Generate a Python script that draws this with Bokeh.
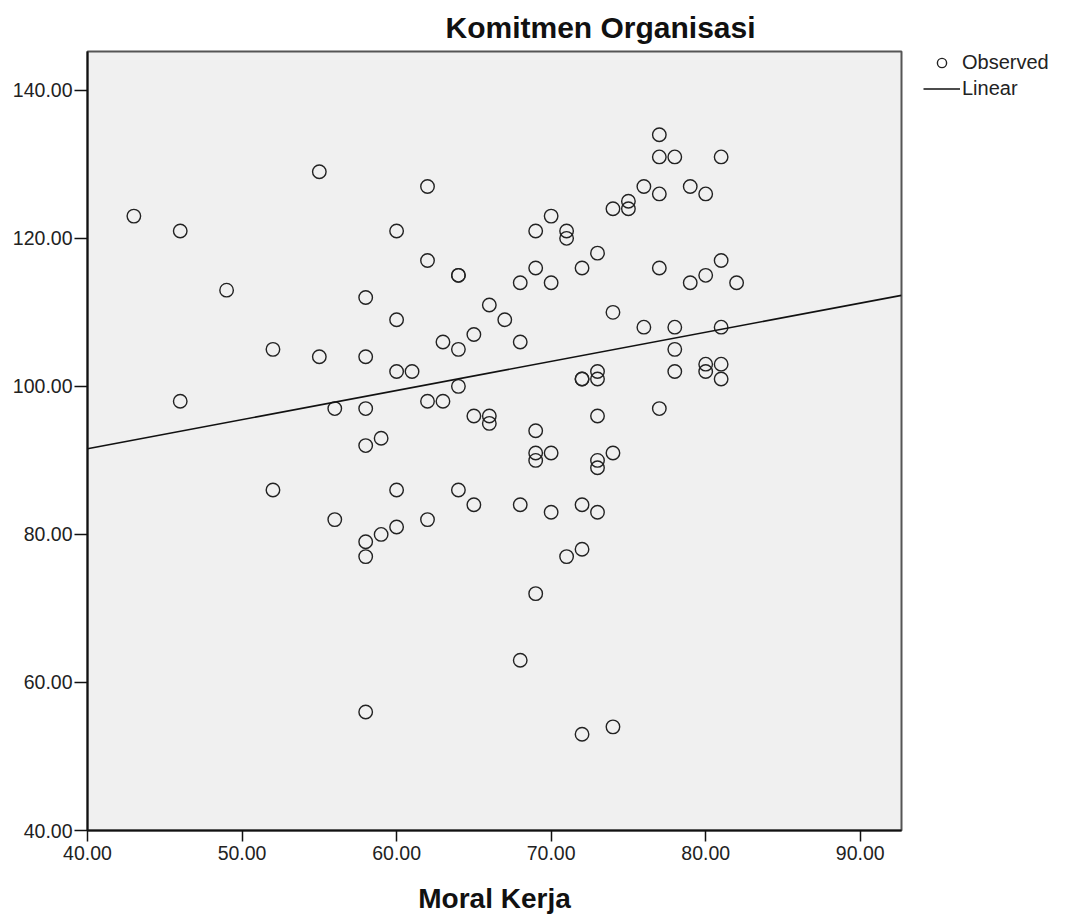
import numpy as np
from bokeh.plotting import figure
from bokeh.layouts import row
from bokeh.models import (Range1d, FixedTicker, NumeralTickFormatter, Legend, LegendItem,
                          Title, ColumnDataSource)
from bokeh.embed import file_html
from bokeh.resources import INLINE

# ---- data ----
moral_kerja = [43, 46, 46, 49, 52, 52, 55, 55, 56, 56,
               58, 58, 58, 58, 58, 58, 58, 59, 59,
               60, 60, 60, 60, 60, 61,
               62, 62, 62, 62, 63, 63,
               64, 64, 64, 64, 64,
               65, 65, 65, 66, 66, 66, 67,
               68, 68, 68, 68,
               69, 69, 69, 69, 69, 69,
               70, 70, 70, 70,
               71, 71, 71,
               72, 72, 72, 72, 72, 72,
               73, 73, 73, 73, 73, 73, 73,
               74, 74, 74, 74,
               75, 75, 76, 76,
               77, 77, 77, 77, 77,
               78, 78, 78, 78,
               79, 79,
               80, 80, 80, 80,
               81, 81, 81, 81, 81,
               82]
komitmen = [123, 121, 98, 113, 105, 86, 129, 104, 97, 82,
            112, 104, 97, 92, 79, 77, 56, 93, 80,
            121, 109, 102, 86, 81, 102,
            127, 117, 98, 82, 106, 98,
            115, 115, 105, 100, 86,
            107, 96, 84, 111, 96, 95, 109,
            114, 106, 84, 63,
            121, 116, 94, 91, 90, 72,
            123, 114, 91, 83,
            121, 120, 77,
            116, 101, 101, 84, 78, 53,
            118, 102, 101, 96, 90, 89, 83,
            124, 110, 91, 54,
            125, 124, 127, 108,
            134, 131, 126, 116, 97,
            131, 108, 105, 102,
            127, 114,
            126, 115, 103, 102,
            131, 117, 108, 103, 101,
            114]
x_ticks = [40, 50, 60, 70, 80, 90]
y_ticks = [40, 60, 80, 100, 120, 140]
title_text = "Komitmen Organisasi"
x_label = "Moral Kerja"
legend_labels = ["Observed", "Linear"]

X0, X1 = 40.0, 92.67
Y0, Y1 = 40.0, 145.24

FONT = "Liberation Sans"
PT_STYLE = dict(marker="circle", fill_color=None, line_color="#222222", line_width=1.4)
LN_STYLE = dict(line_color="#111111", line_width=1.6)

# ---------------- main chart ----------------
p = figure(width=903, height=919, output_backend="svg", toolbar_location=None,
           x_range=Range1d(X0, X1), y_range=Range1d(Y0, Y1),
           min_border_left=87, min_border_right=2,
           min_border_top=51, min_border_bottom=89)
p.title = None
p.background_fill_color = "#F0F0F0"
p.border_fill_color = "white"
p.outline_line_color = "#555555"
p.outline_line_width = 2
p.grid.visible = False

for ax in (p.xaxis[0], p.yaxis[0]):
    ax.axis_line_color = "#111111"
    ax.axis_line_width = 2
    ax.major_tick_line_color = "#111111"
    ax.major_tick_line_width = 1.5
    ax.major_tick_in = 0
    ax.minor_tick_line_color = None
    ax.major_label_text_font = FONT
    ax.major_label_text_font_size = "19.5px"
    ax.major_label_text_color = "#222222"
    ax.formatter = NumeralTickFormatter(format="0.00")

p.xaxis[0].ticker = FixedTicker(ticks=x_ticks)
p.yaxis[0].ticker = FixedTicker(ticks=y_ticks)
p.xaxis[0].major_tick_out = 11
p.xaxis[0].major_label_standoff = 4
p.yaxis[0].major_tick_out = 13
p.yaxis[0].major_label_standoff = 2

p.xaxis[0].axis_label = x_label
p.xaxis[0].axis_label_text_font = FONT
p.xaxis[0].axis_label_text_font_size = "28px"
p.xaxis[0].axis_label_text_font_style = "bold"
p.xaxis[0].axis_label_text_color = "#111111"
p.xaxis[0].axis_label_standoff = 20

src = ColumnDataSource(dict(x=moral_kerja, y=komitmen))
p.scatter("x", "y", source=src, size=13.5, **PT_STYLE)

slope, intercept = np.polyfit(np.array(moral_kerja, float), np.array(komitmen, float), 1)
lx = [X0, X1]
ly = [intercept + slope * v for v in lx]
p.line(lx, ly, **LN_STYLE)

p.add_layout(Title(text=title_text, align="left", offset=358, standoff=15,
                   text_font=FONT, text_font_size="30px", text_font_style="bold",
                   text_color="#111111"), "above")

# ---------------- legend panel (separate small figure to the right) ----------------
# its ranges (0..1) keep the copies of the data out of view; only the legend shows
lf = figure(width=164, height=919, output_backend="svg", toolbar_location=None,
            x_range=Range1d(0, 1), y_range=Range1d(0, 1),
            x_axis_location=None, y_axis_location=None,
            min_border_left=20, min_border_right=0, min_border_top=51, min_border_bottom=0)
lf.title = None
lf.grid.visible = False
lf.outline_line_color = None
lf.background_fill_color = "white"
lf.border_fill_color = "white"
leg_pts = lf.scatter("x", "y", source=src, size=13.5, **PT_STYLE)
leg_ln = lf.line(lx, ly, **LN_STYLE)

legend = Legend(items=[LegendItem(label=legend_labels[0], renderers=[leg_pts]),
                       LegendItem(label=legend_labels[1], renderers=[leg_ln])],
                location="top_left", orientation="vertical",
                glyph_width=37, glyph_height=23, label_height=23, label_standoff=2,
                spacing=3, padding=2, margin=0,
                border_line_color=None, background_fill_alpha=0,
                label_text_font=FONT, label_text_font_size="20px",
                label_text_color="#222222")
lf.add_layout(legend, "center")

layout = row(p, lf, spacing=0)
open("out.html", "w").write(file_html(layout, INLINE))
